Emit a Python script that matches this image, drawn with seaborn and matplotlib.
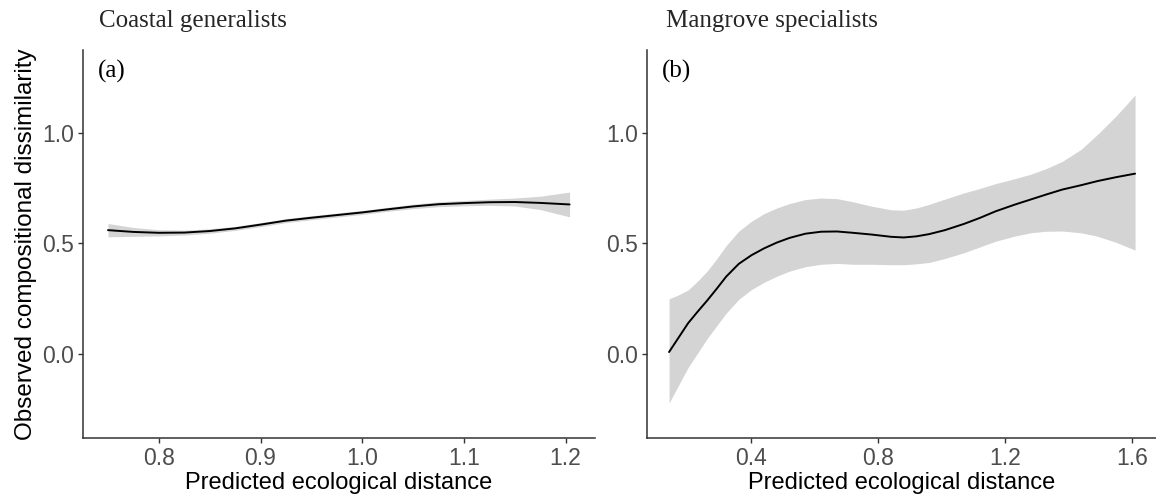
import matplotlib
matplotlib.use("Agg")
import matplotlib.pyplot as plt
import seaborn as sns

# Coastal generalists: fitted curve with confidence band
gen_x = [0.750, 0.775, 0.800, 0.825, 0.850, 0.875, 0.900, 0.925, 0.950, 0.975,
         1.000, 1.025, 1.050, 1.075, 1.100, 1.125, 1.150, 1.175, 1.204]
gen_fit = [0.560, 0.552, 0.548, 0.549, 0.556, 0.568, 0.585, 0.603, 0.616, 0.628,
           0.640, 0.654, 0.667, 0.677, 0.682, 0.686, 0.687, 0.683, 0.676]
gen_lo = [0.530, 0.532, 0.534, 0.538, 0.546, 0.559, 0.576, 0.594, 0.607, 0.619,
          0.631, 0.645, 0.657, 0.666, 0.670, 0.672, 0.669, 0.653, 0.620]
gen_hi = [0.590, 0.572, 0.562, 0.560, 0.566, 0.577, 0.594, 0.612, 0.625, 0.637,
          0.649, 0.663, 0.677, 0.688, 0.694, 0.700, 0.705, 0.713, 0.732]

# Mangrove specialists: fitted curve with confidence band
man_x = [0.14, 0.17, 0.20, 0.23, 0.26, 0.29, 0.32, 0.36, 0.40, 0.44, 0.48, 0.52,
         0.57, 0.62, 0.67, 0.72, 0.78, 0.84, 0.88, 0.92, 0.96, 1.01, 1.07, 1.12,
         1.17, 1.23, 1.28, 1.33, 1.38, 1.44, 1.49, 1.55, 1.61]
man_fit = [0.010, 0.075, 0.140, 0.192, 0.242, 0.295, 0.350, 0.408, 0.447, 0.478,
           0.504, 0.525, 0.544, 0.553, 0.554, 0.548, 0.540, 0.530, 0.527, 0.532,
           0.542, 0.560, 0.588, 0.615, 0.645, 0.675, 0.698, 0.721, 0.743, 0.763,
           0.781, 0.799, 0.815]
man_lo = [-0.220, -0.140, -0.060, 0.005, 0.070, 0.128, 0.185, 0.248, 0.292, 0.325,
          0.352, 0.375, 0.395, 0.406, 0.410, 0.406, 0.406, 0.404, 0.404, 0.408,
          0.414, 0.432, 0.458, 0.484, 0.510, 0.533, 0.548, 0.555, 0.556, 0.548,
          0.533, 0.505, 0.470]
man_hi = [0.250, 0.268, 0.290, 0.330, 0.375, 0.430, 0.490, 0.556, 0.600, 0.635,
          0.660, 0.680, 0.698, 0.705, 0.702, 0.688, 0.668, 0.652, 0.650, 0.660,
          0.676, 0.700, 0.728, 0.748, 0.770, 0.792, 0.812, 0.838, 0.870, 0.925,
          0.990, 1.075, 1.170]

gen_xticks = [0.8, 0.9, 1.0, 1.1, 1.2]
man_xticks = [0.4, 0.8, 1.2, 1.6]
yticks = [0.0, 0.5, 1.0]

sns.set_style("ticks")
plt.rcParams["font.family"] = ["Liberation Sans", "DejaVu Sans"]

W, H = 1156, 495
fig = plt.figure(figsize=(W / 100, H / 100), dpi=100)
top, bottom = 50, 438
ax1 = fig.add_axes([83 / W, 1 - bottom / H, (595 - 83) / W, (bottom - top) / H])
ax2 = fig.add_axes([647 / W, 1 - bottom / H, (W - 647) / W, (bottom - top) / H])


def panel(ax, x, fit, lo, hi, xlim, xticks, tag):
    ax.fill_between(x, lo, hi, color="#D4D4D4", lw=0, zorder=1)
    sns.lineplot(x=x, y=fit, ax=ax, color="black", lw=1.4, zorder=2)
    ax.set_xlim(*xlim)
    ax.set_ylim(-0.378, 1.373)
    ax.set_xticks(xticks)
    ax.set_xticklabels([f"{t:.1f}" for t in xticks])
    ax.set_yticks(yticks)
    ax.set_yticklabels([f"{t:.1f}" for t in yticks])
    sns.despine(ax=ax)
    for s in ("left", "bottom"):
        ax.spines[s].set_color("#333333")
        ax.spines[s].set_linewidth(1.1)
    ax.tick_params(length=3.5, width=1, color="#333333", labelcolor="#4D4D4D",
                   labelsize=16.5, pad=3)
    ax.set_xlabel("Predicted ecological distance", fontsize=17, color="black",
                  labelpad=1.5)
    ax.set_ylabel("")
    ax.text(0.030, 0.945, tag, transform=ax.transAxes, ha="left", va="center",
            family="Liberation Serif", fontsize=18, color="black")


panel(ax1, gen_x, gen_fit, gen_lo, gen_hi, (0.7254, 1.229), gen_xticks, "(a)")
panel(ax2, man_x, man_fit, man_lo, man_hi, (0.0704, 1.676), man_xticks, "(b)")

ax1.set_ylabel("Observed compositional dissimilarity", fontsize=17.5, color="black")
ax1.yaxis.set_label_coords(-0.09, 0.5)

fig.text(99 / W, 1 - 21 / H, "Coastal generalists", family="Liberation Serif",
         fontsize=18, ha="left", va="center")
fig.text(666 / W, 1 - 21 / H, "Mangrove specialists", family="Liberation Serif",
         fontsize=18, ha="left", va="center")

fig.savefig("out.png", dpi=100)
